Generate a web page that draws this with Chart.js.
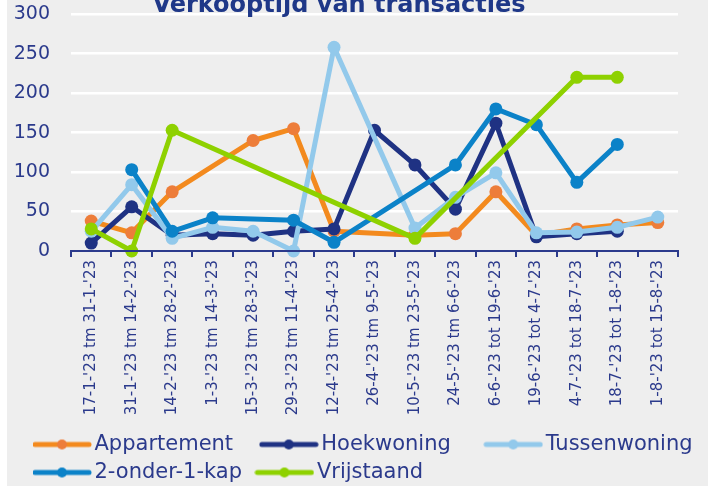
<!DOCTYPE html>
<html>
<head>
<meta charset="UTF-8">
<title>Verkooptijd van transacties</title>
<script src="https://cdn.jsdelivr.net/npm/chart.js@4.4.7/dist/chart.umd.min.js"></script>
<style>
*{margin:0;padding:0;box-sizing:border-box}
html,body{width:708px;height:491px;background:#fff;overflow:hidden}
#wrap{position:relative;width:708px;height:491px}
</style>
</head>
<body>
<div id="wrap"><canvas id="ch" width="708" height="491"></canvas></div>
<script>
// periodes van twee weken
const periods = [
  "17-1-'23 tm 31-1-'23", "31-1-'23 tm 14-2-'23", "14-2-'23 tm 28-2-'23",
  "1-3-'23 tm 14-3-'23", "15-3-'23 tm 28-3-'23", "29-3-'23 tm 11-4-'23",
  "12-4-'23 tm 25-4-'23", "26-4-'23 tm 9-5-'23", "10-5-'23 tm 23-5-'23",
  "24-5-'23 tm 6-6-'23", "6-6-'23 tot 19-6-'23", "19-6-'23 tot 4-7-'23",
  "4-7-'23 tot 18-7-'23", "18-7-'23 tot 1-8-'23", "1-8-'23 tot 15-8-'23"
];

// verkooptijd per woningtype (null = geen transacties in die periode)
const appartement = [38, 23, 75, null, 140, 155, 25, null, 20, 22, 75, 20, 28, 33, 36];
const hoekwoning  = [10, 56, 20, 22, 20, 25, 28, 153, 109, 53, 162, 18, 22, 25, null];
const tussenwoning = [25, 84, 16, 30, 25, 0, 258, null, 29, 68, 99, 23, 24, 30, 43];
const onderEenKap = [null, 103, 25, 42, null, 39, 11, null, null, 109, 180, 160, 87, 135, null];
const vrijstaand  = [28, 0, 153, null, null, null, null, null, 16, null, null, null, 220, 220, null];

const yTicks = [0, 50, 100, 150, 200, 250, 300];

const NAVY = '#2b3a8c';
const FONT = '"DejaVu Sans", sans-serif';

const series = [
  {label: 'Appartement', data: appartement, line: '#f38a1e', dot: '#ed7d3a'},
  {label: 'Hoekwoning', data: hoekwoning, line: '#1f3283', dot: '#1f3283'},
  {label: 'Tussenwoning', data: tussenwoning, line: '#92c9eb', dot: '#92c9eb'},
  {label: '2-onder-1-kap', data: onderEenKap, line: '#0b82c8', dot: '#0b82c8'},
  {label: 'Vrijstaand', data: vrijstaand, line: '#8ed100', dot: '#8ed100'}
];

// legend swatch: short line with a dot in the middle
function swatch(line, dot) {
  const c = document.createElement('canvas');
  c.width = 60; c.height = 12;
  const g = c.getContext('2d');
  g.strokeStyle = line; g.lineWidth = 5; g.lineCap = 'round';
  g.beginPath(); g.moveTo(3, 6); g.lineTo(57, 6); g.stroke();
  g.fillStyle = dot;
  g.beginPath(); g.arc(30, 6, 5, 0, Math.PI * 2); g.fill();
  return c;
}
const swatches = series.map(s => swatch(s.line, s.dot));

const panel = {
  id: 'panel',
  beforeDraw(chart) {
    const ctx = chart.ctx;
    ctx.save();
    ctx.fillStyle = '#eeeeee';
    ctx.fillRect(7, 0, 701, 486);
    ctx.restore();
  },
  afterLayout(chart) {
    // legend starts a bit to the right, in fixed columns
    const lg = chart.legend;
    lg.left = 33; lg.right = 708;
  }
};

const COL = 227;
const LEGEND_FONT = {family: FONT, size: 21};

new Chart(document.getElementById('ch'), {
  type: 'line',
  data: {
    labels: periods,
    datasets: series.map((s, i) => ({
      label: s.label,
      data: s.data,
      borderColor: s.line,
      backgroundColor: s.dot,
      pointBackgroundColor: s.dot,
      pointBorderColor: s.dot,
      pointBorderWidth: 0,
      pointRadius: 6.5,
      borderWidth: 5,
      borderJoinStyle: 'round',
      borderCapStyle: 'round',
      tension: 0,
      spanGaps: true,
      clip: false,
      order: series.length - i
    }))
  },
  options: {
    responsive: false,
    animation: false,
    layout: {padding: {left: 0, right: 30, top: 0, bottom: -2}},
    plugins: {
      tooltip: {enabled: false},
      title: {
        display: true,
        text: 'Verkooptijd van transacties',
        color: '#1f3888',
        font: {family: FONT, size: 24, weight: 'bold', lineHeight: 1.2},
        padding: {top: -9, bottom: -5.6}
      },
      legend: {
        position: 'bottom',
        align: 'start',
        labels: {
          color: NAVY,
          font: LEGEND_FONT,
          usePointStyle: true,
          pointStyleWidth: 44,
          padding: 7,
          sort: (a, b) => a.datasetIndex - b.datasetIndex,
          generateLabels(chart) {
            const items = Chart.defaults.plugins.legend.labels.generateLabels(chart);
            const ctx = chart.ctx;
            ctx.save();
            ctx.font = LEGEND_FONT.size + 'px ' + FONT;
            items.forEach(it => {
              it.pointStyle = swatches[it.datasetIndex];
              it.fontColor = NAVY;
              if (it.datasetIndex % 3 !== 2) {
                let t = it.text;
                while (ctx.measureText(t + ' ').width + 44 + LEGEND_FONT.size / 2 + 7 <= COL) t += ' ';
                it.text = t;
              }
            });
            ctx.restore();
            return items;
          }
        }
      }
    },
    scales: {
      x: {
        offset: true,
        afterFit(scale) { scale.height = 176; },
        grid: {drawOnChartArea: false, drawTicks: true, tickLength: 6, color: NAVY, lineWidth: 2, offset: true},
        border: {display: true, color: NAVY, width: 2, z: 1},
        ticks: {
          color: NAVY,
          font: {family: FONT, size: 15},
          minRotation: 90,
          maxRotation: 90,
          autoSkip: false,
          padding: 3
        }
      },
      y: {
        min: 0,
        max: 300,
        afterFit(scale) {
          scale.width = 71;
          scale.paddingTop = 12;
          scale.paddingBottom = 12;
        },
        afterBuildTicks(scale) { scale.ticks = yTicks.map(v => ({value: v})); },
        grid: {
          drawTicks: false,
          lineWidth: 2.5,
          color: ctx => ctx.tick && ctx.tick.value === 0 ? 'rgba(0,0,0,0)' : '#ffffff'
        },
        border: {display: false},
        ticks: {
          color: NAVY,
          font: {family: FONT, size: 19},
          padding: 21
        }
      }
    }
  },
  plugins: [panel]
});
</script>
</body>
</html>
